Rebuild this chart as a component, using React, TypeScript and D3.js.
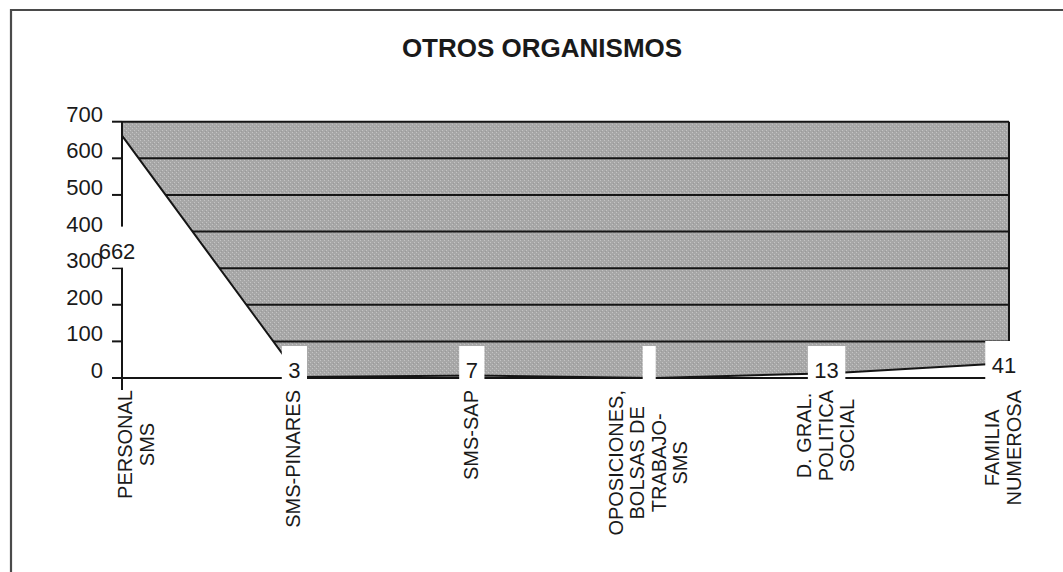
import React from "react";
import * as d3 from "d3";

const title = "OTROS ORGANISMOS";
const categories = [
  "PERSONAL\nSMS",
  "SMS-PINARES",
  "SMS-SAP",
  "OPOSICIONES,\nBOLSAS DE\nTRABAJO-\nSMS",
  "D. GRAL.\nPOLITICA\nSOCIAL",
  "FAMILIA\nNUMEROSA",
];
const values = [662, 3, 7, 0, 13, 41];
const valueLabels = ["662", "3", "7", "", "13", "41"];
const yTicks = [0, 100, 200, 300, 400, 500, 600, 700];

const W = 1063;
const H = 572;
const FONT = "'Liberation Sans', Arial, Helvetica, sans-serif";

let canvasCtx: CanvasRenderingContext2D | null = null;
function measure(text: string, size: number, weight = "normal") {
  if (!canvasCtx) {
    const c = document.createElement("canvas");
    canvasCtx = c.getContext("2d");
  }
  if (!canvasCtx) return text.length * size * 0.6;
  canvasCtx.font = `${weight} ${size}px 'Liberation Sans', Arial, sans-serif`;
  return canvasCtx.measureText(text).width;
}

export default function App() {
  const left = 122;
  const right = 1009;
  const y = d3.scaleLinear().domain([0, 700]).range([378, 121.7]);
  const x = d3.scalePoint<string>().domain(categories).range([left, right]);

  const pts = categories.map((c, i) => ({ c, v: values[i], x: x(c) as number }));
  const area = d3
    .area<{ x: number; v: number }>()
    .x((d) => d.x)
    .y0(y(0))
    .y1((d) => y(d.v));
  const line = d3
    .line<{ x: number; v: number }>()
    .x((d) => d.x)
    .y((d) => y(d.v));

  const valFont = 22;
  const catFont = 20;
  const lineStep = 21.5;

  return (
    <svg
      width={W}
      height={H}
      style={{ position: "fixed", left: 0, top: 0, background: "#fff" }}
      fontFamily={FONT}
    >
      <defs>
        <pattern id="stip" width="4" height="4" patternUnits="userSpaceOnUse">
          <rect width="4" height="4" fill="#a7a7a7" />
          <rect x="0" y="0" width="1" height="1" fill="#c4c4c4" />
          <rect x="2" y="2" width="1" height="1" fill="#c4c4c4" />
          <rect x="1" y="3" width="1" height="1" fill="#9a9a9a" />
        </pattern>
      </defs>
      <rect width={W} height={H} fill="#fff" />
      {/* outer frame */}
      <path d={`M11,${H} V10 H${W}`} fill="none" stroke="#4a4a4a" strokeWidth={2.2} />

      <text
        x={542}
        y={56.5}
        textAnchor="middle"
        fontSize={26}
        fontWeight="bold"
        fill="#1a1a1a"
      >
        {title}
      </text>

      {/* gray plot background */}
      <rect x={left} y={y(700)} width={right - left} height={y(0) - y(700)} fill="url(#stip)" />
      {/* gridlines */}
      {yTicks
        .filter((t) => t > 0)
        .map((t) => (
          <line key={t} x1={left} x2={right} y1={y(t)} y2={y(t)} stroke="#151515" strokeWidth={2} />
        ))}
      {/* white area under line */}
      <path d={area(pts) || ""} fill="#fff" />
      {/* right border */}
      <line x1={right} x2={right} y1={y(700)} y2={y(0)} stroke="#151515" strokeWidth={2} />
      {/* x axis */}
      <line x1={left} x2={right} y1={y(0)} y2={y(0)} stroke="#151515" strokeWidth={2} />
      {/* data line */}
      <path d={line(pts) || ""} fill="none" stroke="#151515" strokeWidth={2} />
      {/* y axis */}
      <line x1={left} x2={left} y1={y(700)} y2={y(0) + 12} stroke="#151515" strokeWidth={2} />
      {yTicks.map((t) => (
        <line key={t} x1={left - 10} x2={left} y1={y(t)} y2={y(t)} stroke="#151515" strokeWidth={2} />
      ))}

      {/* value label boxes */}
      {pts.map((p, i) => {
        const cy = i === 0 ? y(p.v) + 115 : Math.min(y(p.v) + 2, 370);
        const cx = p.x - 5;
        const tw = measure(valueLabels[i], valFont);
        const bw = tw + 13;
        return (
          <g key={i}>
            <rect x={cx - bw / 2} y={cy - 24} width={bw} height={41} fill="#fff" />
            <text
              x={cx}
              y={cy + valFont * 0.36}
              textAnchor="middle"
              fontSize={valFont}
              fill="#1a1a1a"
            >
              {valueLabels[i]}
            </text>
          </g>
        );
      })}

      {/* tick labels */}
      {yTicks.map((t) => (
        <text key={t} x={103} y={y(t)} textAnchor="end" fontSize={22} fill="#1a1a1a">
          {t}
        </text>
      ))}

      {/* category labels */}
      {pts.map((p, i) => {
        const lines = p.c.split("\n");
        const maxLen = Math.max(...lines.map((l) => measure(l, catFont)));
        const cyBlock = 390 + maxLen / 2;
        const n = lines.length;
        const meanBase = i === 0 ? p.x + 21 : p.x + 1;
        return (
          <g key={i}>
            {lines.map((l, j) => {
              const bx = meanBase + (j - (n - 1) / 2) * lineStep;
              return (
                <text
                  key={j}
                  transform={`translate(${bx},${cyBlock}) rotate(-90)`}
                  textAnchor="middle"
                  fontSize={catFont}
                  fill="#1a1a1a"
                >
                  {l}
                </text>
              );
            })}
          </g>
        );
      })}
    </svg>
  );
}
